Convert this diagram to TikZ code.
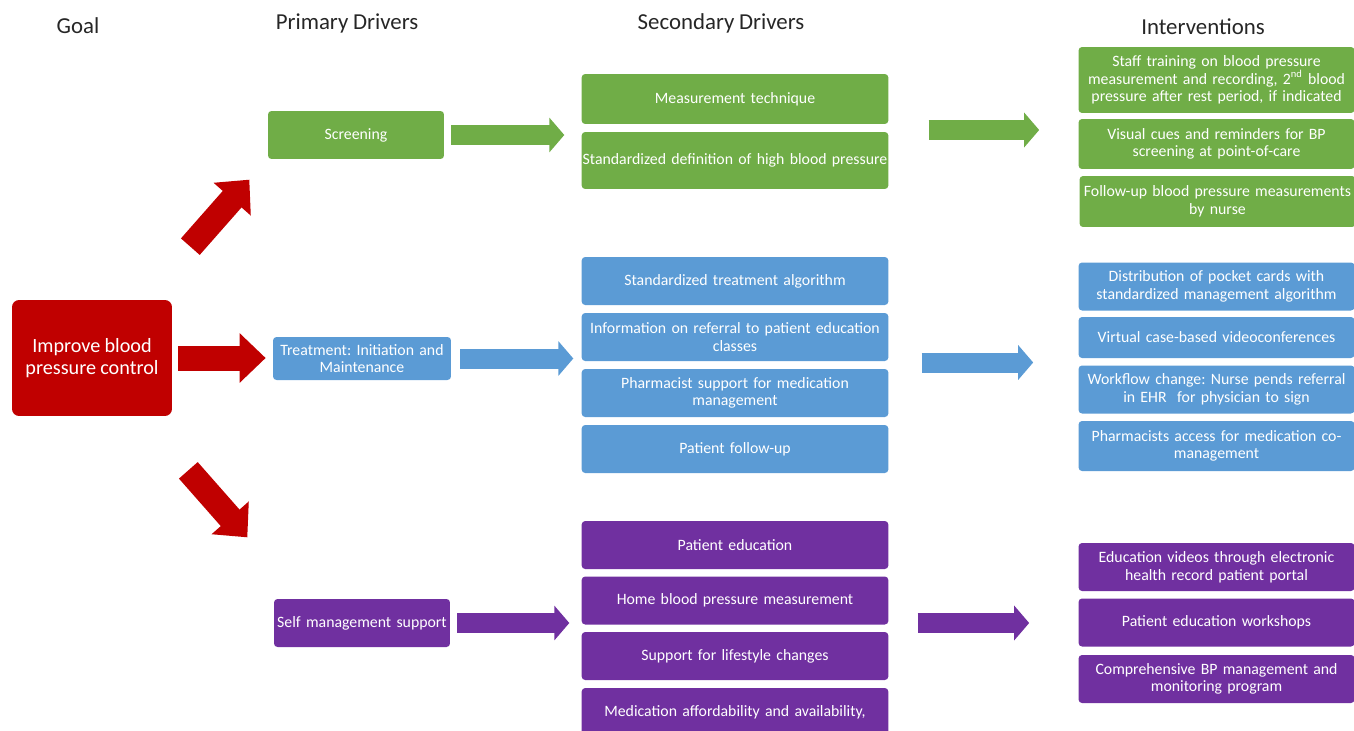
\documentclass[tikz,border=0pt]{standalone}
\usepackage{fontspec}
\setmainfont{Carlito}[WordSpace=0.9]
\frenchspacing
\usetikzlibrary{arrows.meta}
\definecolor{goalred}{HTML}{C00000}
\definecolor{drvgreen}{HTML}{70AD47}
\definecolor{drvblue}{HTML}{5B9BD5}
\definecolor{drvpurple}{HTML}{7030A0}
\tikzset{
	box/.style={rounded corners=2pt, text=white, align=center, inner sep=1pt,
		font=\fontsize{9}{10}\selectfont},
	pbox/.style={box, minimum width=3.52cm, minimum height=0.96cm, text width=3.45cm},
	sbox/.style={box, inner xsep=0.5pt, minimum width=6.12cm, minimum height=0.96cm, text width=6.1cm},
	ibox/.style={box, minimum width=5.5cm, minimum height=0.96cm, text width=5.45cm},
	head/.style={font=\fontsize{13}{15}\selectfont, text=black!85},
	fat/.style={line width=0.4cm, -{Triangle[length=0.3cm,width=0.68cm]}},
	redfat/.style={draw=goalred, line width=0.5cm, -{Triangle[length=0.52cm,width=0.96cm]}}
}
\begin{document}
\begin{tikzpicture}[x=0.02cm, y=-0.02cm]
	% page: 1354 x 730 px, 1px = 0.02cm
	\useasboundingbox (0,0) rectangle (1354,730);
	\clip (0,0) rectangle (1354,730);
	% column heads
	\node[head] (hgoal) at (78,26) {Goal};
	\node[head] (hprim) at (347,23) {Primary Drivers};
	\node[head] (hsec) at (721,23) {Secondary Drivers};
	\node[head] (hint) at (1203,27) {Interventions};
	% goal
	\node[box, fill=goalred, rounded corners=4pt, minimum width=3.2cm, minimum height=2.32cm,
		font=\fontsize{11.5}{12.5}\selectfont] (goal) at (92,358) {Improve blood\\pressure control};
	% primary drivers
	\node[pbox, fill=drvgreen] (screen) at (356,135) {Screening};
	\node[pbox, fill=drvblue, minimum height=0.86cm, minimum width=3.56cm] (treat) at (362,358.5) {Treatment: Initiation and\\Maintenance};
	\node[pbox, fill=drvpurple] (self) at (362,623) {Self management support};
	% secondary drivers - screening
	\node[sbox, fill=drvgreen, minimum height=1.0cm] (meas) at (735,99) {Measurement technique};
	\node[sbox, fill=drvgreen, minimum height=1.14cm] (stddef) at (735,160.5) {Standardized definition of high blood pressure};
	% secondary drivers - treatment
	\node[sbox, fill=drvblue] (algo) at (735,281) {Standardized treatment algorithm};
	\node[sbox, fill=drvblue] (info) at (735,337) {Information on referral to patient education\\classes};
	\node[sbox, fill=drvblue] (pharm) at (735,393) {Pharmacist support for medication\\management};
	\node[sbox, fill=drvblue] (follow) at (735,449) {Patient follow-up};
	% secondary drivers - self management
	\node[sbox, fill=drvpurple] (educ) at (735,545) {Patient education};
	\node[sbox, fill=drvpurple] (home) at (735,600.5) {Home blood pressure measurement};
	\node[sbox, fill=drvpurple] (life) at (735,656) {Support for lifestyle changes};
	\node[sbox, fill=drvpurple] (afford) at (735,712) {Medication affordability and availability,};
	% interventions - screening
	\node[ibox, fill=drvgreen, minimum height=1.32cm] (staff) at (1216.5,80) {Staff training on blood pressure\\measurement and recording, 2\textsuperscript{nd} blood\\pressure after rest period, if indicated};
	\node[ibox, fill=drvgreen, minimum height=1.0cm] (visual) at (1216.5,144) {Visual cues and reminders for BP\\screening at point-of-care};
	\node[ibox, fill=drvgreen, minimum height=1.02cm] (fup) at (1217.5,201.5) {Follow-up blood pressure measurements\\by nurse};
	% interventions - treatment
	\node[ibox, fill=drvblue] (dist) at (1216.5,286.5) {Distribution of pocket cards with\\standardized management algorithm};
	\node[ibox, fill=drvblue, minimum height=0.82cm] (virt) at (1216.5,337.5) {Virtual case-based videoconferences};
	\node[ibox, fill=drvblue] (work) at (1216.5,389.5) {Workflow change: Nurse pends referral\\in EHR\ \ for physician to sign};
	\node[ibox, fill=drvblue, minimum height=1.0cm] (pacc) at (1216.5,446) {Pharmacists access for medication co-\\management};
	% interventions - self management
	\node[ibox, fill=drvpurple] (vid) at (1216.5,567) {Education videos through electronic\\health record patient portal};
	\node[ibox, fill=drvpurple] (wksp) at (1216.5,622.5) {Patient education workshops};
	\node[ibox, fill=drvpurple] (comp) at (1216.5,679) {Comprehensive BP management and\\monitoring program};
	% goal -> primary drivers
	\draw[redfat] ([shift={(18,-53)}]goal.north east) -- ([shift={(77,-120)}]goal.north east);
	\draw[redfat] ([shift={(6,0)}]goal.east) -- ([shift={(-7,0)}]goal.east -| treat.west);
	\draw[redfat] ([shift={(16,54)}]goal.south east) -- ([shift={(75,121)}]goal.south east);
	% primary -> secondary
	\draw[fat, drvgreen] ([shift={(7,0)}]screen.east) -- ([shift={(-17,0)}]screen.east -| meas.west);
	\draw[fat, drvblue] ([shift={(9,0)}]treat.east) -- ([shift={(-8,0)}]treat.east -| info.west);
	\draw[fat, drvpurple] ([shift={(7,0)}]self.east) -- ([shift={(-12,0)}]self.east -| home.west);
	% secondary -> interventions
	\draw[fat, drvgreen] ([shift={(40,-5)}]stddef.east |- screen.east) -- ([shift={(-39,-5)}]visual.west |- screen.east);
	\draw[fat, drvblue] ([shift={(33,4)}]info.east |- treat.east) -- ([shift={(-45,4)}]dist.west |- treat.east);
	\draw[fat, drvpurple] ([shift={(29,0)}]home.east |- self.east) -- ([shift={(-49,0)}]wksp.west |- self.east);
\end{tikzpicture}
\end{document}
